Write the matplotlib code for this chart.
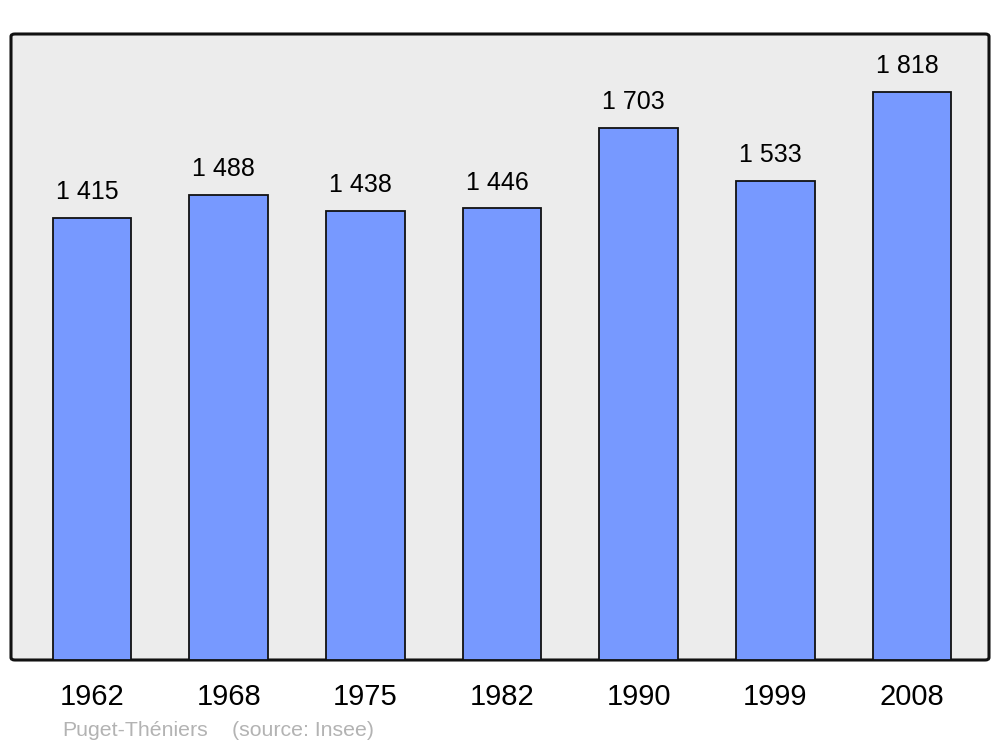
"""Population bar chart — Puget-Théniers (source: Insee)."""
import matplotlib
matplotlib.use("Agg")
from matplotlib import pyplot as plt
from matplotlib.patches import FancyBboxPatch

years = ["1962", "1968", "1975", "1982", "1990", "1999", "2008"]
population = [1415, 1488, 1438, 1446, 1703, 1533, 1818]
value_labels = ["1 415", "1 488", "1 438", "1 446", "1 703", "1 533", "1 818"]
town = "Puget-Théniers"
source = "(source: Insee)"

plt.rcParams["font.family"] = ["Liberation Sans", "DejaVu Sans"]

fig = plt.figure(figsize=(10, 7.47), dpi=100)
ax = fig.add_axes([0.011, 87 / 747, 0.978, 626 / 747])
ax.set_facecolor("none")
for s in ax.spines.values():
    s.set_visible(False)

# rounded grey panel behind the bars
panel = FancyBboxPatch((0, 0), 1, 1, boxstyle="round,pad=0,rounding_size=0.004",
                       transform=ax.transAxes, facecolor="#ececec",
                       edgecolor="#111111", linewidth=2.2, clip_on=False, zorder=0)
ax.add_patch(panel)

x = list(range(len(years)))
ax.bar(x, population, width=0.575, color="#7799ff", edgecolor="#111111",
       linewidth=1.3, zorder=2)

for xi, v, lab in zip(x, population, value_labels):
    ax.annotate(lab, (xi, v), xytext=(-3.5, 18.5), textcoords="offset points",
                ha="center", va="center", fontsize=18, color="black")

ax.set_xlim(-0.593, 6.563)
ax.set_ylim(0, 2004)
ax.set_yticks([])
ax.set_xticks(x)
ax.set_xticklabels(years, fontsize=21)
ax.tick_params(axis="x", length=0, pad=16.5)

fig.text(0.062, 1 - 731 / 747, town, fontsize=15.3, color="#b3b3b3", va="center")
fig.text(0.232, 1 - 731 / 747, source, fontsize=15.3, color="#b3b3b3", va="center")

fig.savefig("out.png", dpi=100)
plt.close(fig)
